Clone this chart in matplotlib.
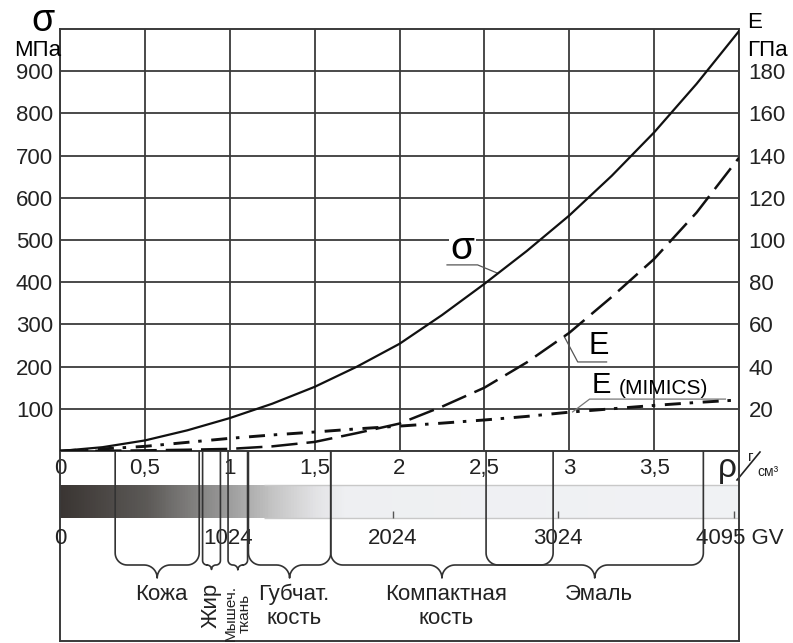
import numpy as np
import matplotlib
matplotlib.use("Agg")
import matplotlib.pyplot as plt
from matplotlib.colors import LinearSegmentedColormap

plt.rcParams['font.family'] = ['Liberation Sans', 'DejaVu Sans']

# density, g/cm3
rho = [0, 0.25, 0.5, 0.75, 1.0, 1.25, 1.5, 1.75, 2.0, 2.25, 2.5, 2.75, 3.0, 3.25, 3.5, 3.75, 4.0]
sigma = [0, 9, 25, 49, 78, 112, 152, 200, 254, 322, 396, 474, 558, 652, 755, 870, 995]        # MPa
e_mod = [0, 0.1, 0.3, 0.6, 1.0, 2.2, 4.3, 8.5, 13, 21, 30, 42, 56, 73, 91, 113, 139]           # GPa
e_mimics = [0, 1.0, 2.2, 4.1, 6.0, 7.6, 9.0, 10.5, 11.8, 13.2, 14.7, 16.4, 18.4, 20.0, 21.6, 23.0, 24.2]

x_ticks = [0, 0.5, 1, 1.5, 2, 2.5, 3, 3.5]
x_labels = ['0', '0,5', '1', '1,5', '2', '2,5', '3', '3,5']
sigma_ticks = [100, 200, 300, 400, 500, 600, 700, 800, 900]
e_ticks = [20, 40, 60, 80, 100, 120, 140, 160, 180]

gv_values = [0, 1024, 2024, 3024, 4095]
gv_labels = ['0', '1024', '2024', '3024', '4095 GV']

tissues = ['Кожа', 'Жир', 'Мышеч.\nткань', 'Губчат.\nкость', 'Компактная\nкость', 'Эмаль']
t_start = [0.325, 0.84, 0.99, 1.11, 1.595, 2.51]
t_end = [0.82, 0.945, 1.105, 1.595, 2.905, 3.79]

# colour stops of the GV bar (position along the bar, rgb)
grad_pos = [0, 0.125, 0.25, 0.3125, 0.375, 0.42, 1.0]
grad_rgb = [(0.23, 0.21, 0.20), (0.36, 0.35, 0.34), (0.62, 0.62, 0.62), (0.77, 0.77, 0.77),
            (0.89, 0.89, 0.90), (0.935, 0.94, 0.95), (0.945, 0.95, 0.96)]

W, H = 793, 643
L, R, T, B, B2 = 60, 739, 29, 451, 641
PX = (R - L) / 4.0  # pixels per g/cm3
line_c = '#3a3a3a'

fig = plt.figure(figsize=(W / 100, H / 100), dpi=100)
ax = fig.add_axes([L / W, 1 - B / H, (R - L) / W, (B - T) / H])
axb = fig.add_axes([L / W, 1 - B2 / H, (R - L) / W, (B2 - B) / H])
axb.set_facecolor('none')

# main chart
ax.set_xlim(0, 4)
ax.set_ylim(0, 1000)
ax.set_xticks(x_ticks + [4])
ax.set_xticklabels(x_labels + [''])
ax.set_yticks([0] + sigma_ticks)
ax.set_yticklabels([''] + [str(v) for v in sigma_ticks])
ax.tick_params(length=0, labelsize=16, colors='#222')
ax.tick_params(axis='x', pad=5)
ax.tick_params(axis='y', pad=5)
ax.grid(True, color=line_c, lw=1.3)
for s in ax.spines.values():
    s.set_color(line_c)
    s.set_linewidth(1.4)

ax2 = ax.twinx()
ax2.set_ylim(0, 200)
ax2.set_yticks(e_ticks)
ax2.tick_params(length=0, labelsize=16, pad=7, colors='#222')
for s in ax2.spines.values():
    s.set_visible(False)

ax.plot(rho, sigma, color='#111', lw=1.6, zorder=4)
ax2.plot(rho, e_mod, color='#111', lw=1.8, dashes=(10.5, 3.6), zorder=4)
ax2.plot(rho, e_mimics, color='#111', lw=2.1, dashes=(5.5, 3.0, 1.2, 3.3), zorder=4)

# axis titles
fig.text(43 / W, 1 - 21 / H, 'σ', fontsize=27, ha='center', va='center')
fig.text(61 / W, 1 - 50 / H, 'МПа', fontsize=16, ha='right', va='center')
fig.text(747 / W, 1 - 22 / H, 'E', fontsize=16, ha='left', va='center')
fig.text(747 / W, 1 - 50 / H, 'ГПа', fontsize=16, ha='left', va='center')

# curve labels with leaders
r_s = 2.58
ax.text(2.37, 478, 'σ', fontsize=28, ha='center', va='center',
        bbox=dict(fc='white', ec='none', pad=1), zorder=3)
ax.plot([2.28, 2.46, r_s], [441, 441, np.interp(r_s, rho, sigma)], color='#555', lw=0.9, zorder=3)

r_e = 2.97
ax2.text(3.175, 50, 'E', fontsize=22, ha='center', va='center')
ax2.plot([r_e, 3.05, 3.22], [np.interp(r_e, rho, e_mod), 42.2, 42.2], color='#555', lw=0.9)

r_m = 3.02
ax2.text(3.19, 31.3, 'E', fontsize=21, ha='center', va='center')
ax2.text(3.555, 29.4, '(MIMICS)', fontsize=15, ha='center', va='center')
ax2.plot([r_m, 3.12, 3.92], [np.interp(r_m, rho, e_mimics), 24.6, 24.6], color='#777', lw=0.9)

# lower part: GV bar and tissue ranges
axb.set_xlim(0, 4)
axb.set_ylim(B2, B)
axb.set_xticks([])
axb.set_yticks([])
axb.spines['top'].set_visible(False)
for k in ['left', 'right', 'bottom']:
    axb.spines[k].set_color(line_c)
    axb.spines[k].set_linewidth(1.4)

cmap = LinearSegmentedColormap.from_list('bar', list(zip(grad_pos, grad_rgb)))
axb.imshow(np.linspace(0, 1, 500)[None, :], cmap=cmap, aspect='auto',
           extent=[0, 4, 518, 485], zorder=1)
axb.hlines([485, 518], 1.2, 4, color='#c8c8c8', lw=1, zorder=2)

gv_scale = 3.97 / 4095
gv_rho = [g * gv_scale for g in gv_values]
axb.vlines(gv_rho[2:], 511, 518, color='#555', lw=1, zorder=2)
for xr, lab in zip(gv_rho[:-1], gv_labels[:-1]):
    axb.text(xr, 538, lab, fontsize=16, ha='center', va='center', color='#222')
axb.annotate(gv_labels[-1], xy=(gv_rho[-1], 538), xytext=(-27, 0), textcoords='offset points',
             fontsize=16, ha='left', va='center', color='#222')

# rho unit
axb.text((727 - L) / PX, 469, 'ρ', fontsize=24, ha='center', va='center', color='#222')
axb.text((751 - L) / PX, 457, 'г', fontsize=11, ha='center', va='center', color='#222')
axb.text((768 - L) / PX, 472, 'см³', fontsize=10, ha='center', va='center', color='#222')
axb.plot([(737 - L) / PX, (760 - L) / PX], [480, 452], color='#222', lw=1.2, clip_on=False)


def brace(a, x0, x1, y_top=451, y_h=565, tip=13.0, r_px=12.0):
    # x0, x1 in g/cm3, vertical sizes in pixels
    p0, p1 = L + x0 * PX, L + x1 * PX
    pm = (p0 + p1) / 2
    r = min(r_px, (p1 - p0) / 4)
    rt = min(tip, (p1 - p0) / 4)
    t = np.linspace(0, np.pi / 2, 12)
    xs = [p0]
    ys = [y_top]
    xs += list(p0 + r - r * np.cos(t)); ys += list(y_h - r + r * np.sin(t))
    xs += list(pm - rt + rt * np.sin(t)); ys += list(y_h + rt - rt * np.cos(t))
    xs += list(pm + rt - rt * np.sin(t[::-1])); ys += list(y_h + rt - rt * np.cos(t[::-1]))
    xs += list(p1 - r + r * np.cos(t[::-1])); ys += list(y_h - r + r * np.sin(t[::-1]))
    xs.append(p1); ys.append(y_top)
    a.plot((np.array(xs) - L) / PX, ys, color='#333', lw=1.2, zorder=3)
    return (pm - L) / PX


for name, x0, x1 in zip(tissues, t_start, t_end):
    xm = brace(axb, x0, x1)
    if name == 'Жир':
        axb.text(xm, 583, name, fontsize=16, rotation=90, ha='center', va='top', color='#222')
    elif name.startswith('Мышеч'):
        axb.text(xm, 585, name, fontsize=11, rotation=90, ha='center', va='top',
                 linespacing=1.0, color='#222')
    else:
        axb.text(xm + 4 / PX, 584, name, fontsize=16, ha='center', va='top',
                 linespacing=1.2, color='#222')

fig.savefig('out.png', dpi=100)
